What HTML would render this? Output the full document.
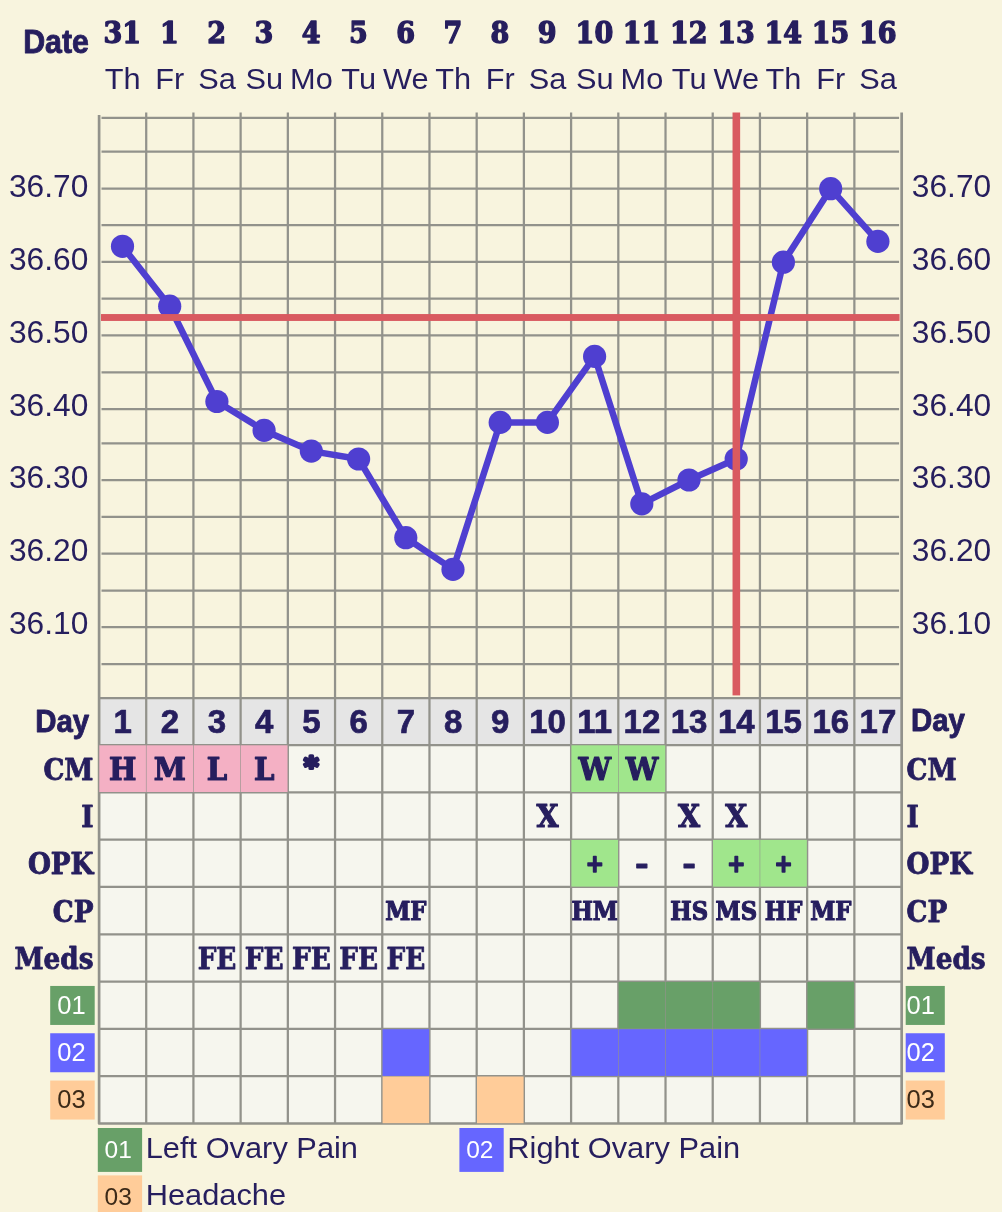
<!DOCTYPE html>
<html><head><meta charset="utf-8"><title>Chart</title>
<style>html,body{margin:0;padding:0;background:#f8f4de;}svg{display:block;filter:blur(0.45px)}</style></head>
<body>
<svg width="1002" height="1212" viewBox="0 0 1002 1212">
<rect width="1002" height="1212" fill="#f8f4de"/>
<rect x="99.0" y="698.2" width="802.57" height="425.30" fill="#f6f6ee"/>
<rect x="99.0" y="698.2" width="802.57" height="46.80" fill="#e5e5e5"/>
<g stroke="#92928b" stroke-width="2.25" fill="none">
<line x1="146.21" y1="112.5" x2="146.21" y2="1123.50"/>
<line x1="193.42" y1="112.5" x2="193.42" y2="1123.50"/>
<line x1="240.63" y1="112.5" x2="240.63" y2="1123.50"/>
<line x1="287.84" y1="112.5" x2="287.84" y2="1123.50"/>
<line x1="335.05" y1="112.5" x2="335.05" y2="1123.50"/>
<line x1="382.26" y1="112.5" x2="382.26" y2="1123.50"/>
<line x1="429.47" y1="112.5" x2="429.47" y2="1123.50"/>
<line x1="476.68" y1="112.5" x2="476.68" y2="1123.50"/>
<line x1="523.89" y1="112.5" x2="523.89" y2="1123.50"/>
<line x1="571.10" y1="112.5" x2="571.10" y2="1123.50"/>
<line x1="618.31" y1="112.5" x2="618.31" y2="1123.50"/>
<line x1="665.52" y1="112.5" x2="665.52" y2="1123.50"/>
<line x1="712.73" y1="112.5" x2="712.73" y2="1123.50"/>
<line x1="759.94" y1="112.5" x2="759.94" y2="1123.50"/>
<line x1="807.15" y1="112.5" x2="807.15" y2="1123.50"/>
<line x1="854.36" y1="112.5" x2="854.36" y2="1123.50"/>
<path d="M99.10,115 V1123.50 H901.67 V112.5" stroke-width="2.7" stroke-linejoin="round"/>
<line x1="101.50" y1="117.8" x2="899.07" y2="117.8"/>
<line x1="101.50" y1="151.60" x2="899.07" y2="151.60"/>
<line x1="101.50" y1="188.50" x2="899.07" y2="188.50"/>
<line x1="101.50" y1="225.20" x2="899.07" y2="225.20"/>
<line x1="101.50" y1="261.90" x2="899.07" y2="261.90"/>
<line x1="101.50" y1="298.60" x2="899.07" y2="298.60"/>
<line x1="101.50" y1="335.30" x2="899.07" y2="335.30"/>
<line x1="101.50" y1="372.30" x2="899.07" y2="372.30"/>
<line x1="101.50" y1="409.00" x2="899.07" y2="409.00"/>
<line x1="101.50" y1="443.40" x2="899.07" y2="443.40"/>
<line x1="101.50" y1="480.10" x2="899.07" y2="480.10"/>
<line x1="101.50" y1="516.80" x2="899.07" y2="516.80"/>
<line x1="101.50" y1="553.70" x2="899.07" y2="553.70"/>
<line x1="101.50" y1="590.50" x2="899.07" y2="590.50"/>
<line x1="101.50" y1="627.00" x2="899.07" y2="627.00"/>
<line x1="101.50" y1="664.10" x2="899.07" y2="664.10"/>
<line x1="99.00" y1="698.20" x2="901.57" y2="698.20"/>
<line x1="99.00" y1="745.00" x2="901.57" y2="745.00"/>
<line x1="99.00" y1="792.30" x2="901.57" y2="792.30"/>
<line x1="99.00" y1="839.60" x2="901.57" y2="839.60"/>
<line x1="99.00" y1="886.90" x2="901.57" y2="886.90"/>
<line x1="99.00" y1="934.30" x2="901.57" y2="934.30"/>
<line x1="99.00" y1="981.60" x2="901.57" y2="981.60"/>
<line x1="99.00" y1="1028.90" x2="901.57" y2="1028.90"/>
<line x1="99.00" y1="1076.20" x2="901.57" y2="1076.20"/>
</g>
<rect x="99.30" y="745.30" width="46.61" height="46.70" fill="#f4b0c4"/>
<rect x="146.51" y="745.30" width="46.61" height="46.70" fill="#f4b0c4"/>
<rect x="193.72" y="745.30" width="46.61" height="46.70" fill="#f4b0c4"/>
<rect x="240.93" y="745.30" width="46.61" height="46.70" fill="#f4b0c4"/>
<rect x="571.40" y="745.30" width="46.61" height="46.70" fill="#a0e68c"/>
<rect x="618.61" y="745.30" width="46.61" height="46.70" fill="#a0e68c"/>
<rect x="571.40" y="839.90" width="46.61" height="46.70" fill="#a0e68c"/>
<rect x="713.03" y="839.90" width="46.61" height="46.70" fill="#a0e68c"/>
<rect x="760.24" y="839.90" width="46.61" height="46.70" fill="#a0e68c"/>
<rect x="618.61" y="981.90" width="46.61" height="46.70" fill="#68a068"/>
<rect x="665.82" y="981.90" width="46.61" height="46.70" fill="#68a068"/>
<rect x="713.03" y="981.90" width="46.61" height="46.70" fill="#68a068"/>
<rect x="807.45" y="981.90" width="46.61" height="46.70" fill="#68a068"/>
<rect x="382.56" y="1029.20" width="46.61" height="46.70" fill="#6666ff"/>
<rect x="571.40" y="1029.20" width="46.61" height="46.70" fill="#6666ff"/>
<rect x="618.61" y="1029.20" width="46.61" height="46.70" fill="#6666ff"/>
<rect x="665.82" y="1029.20" width="46.61" height="46.70" fill="#6666ff"/>
<rect x="713.03" y="1029.20" width="46.61" height="46.70" fill="#6666ff"/>
<rect x="760.24" y="1029.20" width="46.61" height="46.70" fill="#6666ff"/>
<rect x="382.56" y="1076.50" width="46.61" height="46.70" fill="#ffcc99"/>
<rect x="476.98" y="1076.50" width="46.61" height="46.70" fill="#ffcc99"/>
<polyline fill="none" stroke="#4f3fd0" stroke-width="6.5" stroke-linejoin="round" points="122.5,246.3 169.7,306.2 216.9,401.5 264.1,430.4 311.3,451.1 358.6,459.0 405.8,537.7 453.0,569.4 500.2,422.4 547.4,422.4 594.6,356.4 641.8,503.9 689.0,480.0 736.2,459.0 783.4,262.2 830.7,188.7 877.9,241.4"/>
<circle cx="122.5" cy="246.3" r="11.6" fill="#4f3fd0"/>
<circle cx="169.7" cy="306.2" r="11.6" fill="#4f3fd0"/>
<circle cx="216.9" cy="401.5" r="11.6" fill="#4f3fd0"/>
<circle cx="264.1" cy="430.4" r="11.6" fill="#4f3fd0"/>
<circle cx="311.3" cy="451.1" r="11.6" fill="#4f3fd0"/>
<circle cx="358.6" cy="459.0" r="11.6" fill="#4f3fd0"/>
<circle cx="405.8" cy="537.7" r="11.6" fill="#4f3fd0"/>
<circle cx="453.0" cy="569.4" r="11.6" fill="#4f3fd0"/>
<circle cx="500.2" cy="422.4" r="11.6" fill="#4f3fd0"/>
<circle cx="547.4" cy="422.4" r="11.6" fill="#4f3fd0"/>
<circle cx="594.6" cy="356.4" r="11.6" fill="#4f3fd0"/>
<circle cx="641.8" cy="503.9" r="11.6" fill="#4f3fd0"/>
<circle cx="689.0" cy="480.0" r="11.6" fill="#4f3fd0"/>
<circle cx="736.2" cy="459.0" r="11.6" fill="#4f3fd0"/>
<circle cx="783.4" cy="262.2" r="11.6" fill="#4f3fd0"/>
<circle cx="830.7" cy="188.7" r="11.6" fill="#4f3fd0"/>
<circle cx="877.9" cy="241.4" r="11.6" fill="#4f3fd0"/>
<rect x="101.00" y="314.05" width="798.57" height="6.9" fill="#d95a60"/>
<rect x="732.54" y="112.5" width="7.6" height="582.90" fill="#d95a60"/>
<text transform="translate(88.90 52.90) scale(0.92 1)" x="0" y="0" font-family="'Liberation Sans', Arial, sans-serif" font-size="33" font-weight="bold" text-anchor="end" fill="#261e5e" stroke="#261e5e" stroke-width="0.9" stroke-linejoin="round">Date</text>
<text x="122.31" y="42.90" font-family="'DejaVu Serif Condensed', 'DejaVu Serif', 'Liberation Serif', serif" font-size="30" font-weight="bold" text-anchor="middle" fill="#261e5e" stroke="#261e5e" stroke-width="1.3" stroke-linejoin="round">31</text>
<text transform="translate(122.61 88.70) scale(1.06 1)" x="0" y="0" font-family="'Liberation Sans', Arial, sans-serif" font-size="29" font-weight="normal" text-anchor="middle" fill="#261e5e">Th</text>
<text x="169.51" y="42.90" font-family="'DejaVu Serif Condensed', 'DejaVu Serif', 'Liberation Serif', serif" font-size="30" font-weight="bold" text-anchor="middle" fill="#261e5e" stroke="#261e5e" stroke-width="1.3" stroke-linejoin="round">1</text>
<text transform="translate(169.81 88.70) scale(1.06 1)" x="0" y="0" font-family="'Liberation Sans', Arial, sans-serif" font-size="29" font-weight="normal" text-anchor="middle" fill="#261e5e">Fr</text>
<text x="216.72" y="42.90" font-family="'DejaVu Serif Condensed', 'DejaVu Serif', 'Liberation Serif', serif" font-size="30" font-weight="bold" text-anchor="middle" fill="#261e5e" stroke="#261e5e" stroke-width="1.3" stroke-linejoin="round">2</text>
<text transform="translate(217.03 88.70) scale(1.06 1)" x="0" y="0" font-family="'Liberation Sans', Arial, sans-serif" font-size="29" font-weight="normal" text-anchor="middle" fill="#261e5e">Sa</text>
<text x="263.94" y="42.90" font-family="'DejaVu Serif Condensed', 'DejaVu Serif', 'Liberation Serif', serif" font-size="30" font-weight="bold" text-anchor="middle" fill="#261e5e" stroke="#261e5e" stroke-width="1.3" stroke-linejoin="round">3</text>
<text transform="translate(264.24 88.70) scale(1.06 1)" x="0" y="0" font-family="'Liberation Sans', Arial, sans-serif" font-size="29" font-weight="normal" text-anchor="middle" fill="#261e5e">Su</text>
<text x="311.14" y="42.90" font-family="'DejaVu Serif Condensed', 'DejaVu Serif', 'Liberation Serif', serif" font-size="30" font-weight="bold" text-anchor="middle" fill="#261e5e" stroke="#261e5e" stroke-width="1.3" stroke-linejoin="round">4</text>
<text transform="translate(311.44 88.70) scale(1.06 1)" x="0" y="0" font-family="'Liberation Sans', Arial, sans-serif" font-size="29" font-weight="normal" text-anchor="middle" fill="#261e5e">Mo</text>
<text x="358.36" y="42.90" font-family="'DejaVu Serif Condensed', 'DejaVu Serif', 'Liberation Serif', serif" font-size="30" font-weight="bold" text-anchor="middle" fill="#261e5e" stroke="#261e5e" stroke-width="1.3" stroke-linejoin="round">5</text>
<text transform="translate(358.66 88.70) scale(1.06 1)" x="0" y="0" font-family="'Liberation Sans', Arial, sans-serif" font-size="29" font-weight="normal" text-anchor="middle" fill="#261e5e">Tu</text>
<text x="405.56" y="42.90" font-family="'DejaVu Serif Condensed', 'DejaVu Serif', 'Liberation Serif', serif" font-size="30" font-weight="bold" text-anchor="middle" fill="#261e5e" stroke="#261e5e" stroke-width="1.3" stroke-linejoin="round">6</text>
<text transform="translate(405.87 88.70) scale(1.06 1)" x="0" y="0" font-family="'Liberation Sans', Arial, sans-serif" font-size="29" font-weight="normal" text-anchor="middle" fill="#261e5e">We</text>
<text x="452.77" y="42.90" font-family="'DejaVu Serif Condensed', 'DejaVu Serif', 'Liberation Serif', serif" font-size="30" font-weight="bold" text-anchor="middle" fill="#261e5e" stroke="#261e5e" stroke-width="1.3" stroke-linejoin="round">7</text>
<text transform="translate(453.07 88.70) scale(1.06 1)" x="0" y="0" font-family="'Liberation Sans', Arial, sans-serif" font-size="29" font-weight="normal" text-anchor="middle" fill="#261e5e">Th</text>
<text x="499.99" y="42.90" font-family="'DejaVu Serif Condensed', 'DejaVu Serif', 'Liberation Serif', serif" font-size="30" font-weight="bold" text-anchor="middle" fill="#261e5e" stroke="#261e5e" stroke-width="1.3" stroke-linejoin="round">8</text>
<text transform="translate(500.29 88.70) scale(1.06 1)" x="0" y="0" font-family="'Liberation Sans', Arial, sans-serif" font-size="29" font-weight="normal" text-anchor="middle" fill="#261e5e">Fr</text>
<text x="547.20" y="42.90" font-family="'DejaVu Serif Condensed', 'DejaVu Serif', 'Liberation Serif', serif" font-size="30" font-weight="bold" text-anchor="middle" fill="#261e5e" stroke="#261e5e" stroke-width="1.3" stroke-linejoin="round">9</text>
<text transform="translate(547.50 88.70) scale(1.06 1)" x="0" y="0" font-family="'Liberation Sans', Arial, sans-serif" font-size="29" font-weight="normal" text-anchor="middle" fill="#261e5e">Sa</text>
<text x="594.40" y="42.90" font-family="'DejaVu Serif Condensed', 'DejaVu Serif', 'Liberation Serif', serif" font-size="30" font-weight="bold" text-anchor="middle" fill="#261e5e" stroke="#261e5e" stroke-width="1.3" stroke-linejoin="round">10</text>
<text transform="translate(594.70 88.70) scale(1.06 1)" x="0" y="0" font-family="'Liberation Sans', Arial, sans-serif" font-size="29" font-weight="normal" text-anchor="middle" fill="#261e5e">Su</text>
<text x="641.62" y="42.90" font-family="'DejaVu Serif Condensed', 'DejaVu Serif', 'Liberation Serif', serif" font-size="30" font-weight="bold" text-anchor="middle" fill="#261e5e" stroke="#261e5e" stroke-width="1.3" stroke-linejoin="round">11</text>
<text transform="translate(641.91 88.70) scale(1.06 1)" x="0" y="0" font-family="'Liberation Sans', Arial, sans-serif" font-size="29" font-weight="normal" text-anchor="middle" fill="#261e5e">Mo</text>
<text x="688.83" y="42.90" font-family="'DejaVu Serif Condensed', 'DejaVu Serif', 'Liberation Serif', serif" font-size="30" font-weight="bold" text-anchor="middle" fill="#261e5e" stroke="#261e5e" stroke-width="1.3" stroke-linejoin="round">12</text>
<text transform="translate(689.12 88.70) scale(1.06 1)" x="0" y="0" font-family="'Liberation Sans', Arial, sans-serif" font-size="29" font-weight="normal" text-anchor="middle" fill="#261e5e">Tu</text>
<text x="736.04" y="42.90" font-family="'DejaVu Serif Condensed', 'DejaVu Serif', 'Liberation Serif', serif" font-size="30" font-weight="bold" text-anchor="middle" fill="#261e5e" stroke="#261e5e" stroke-width="1.3" stroke-linejoin="round">13</text>
<text transform="translate(736.34 88.70) scale(1.06 1)" x="0" y="0" font-family="'Liberation Sans', Arial, sans-serif" font-size="29" font-weight="normal" text-anchor="middle" fill="#261e5e">We</text>
<text x="783.25" y="42.90" font-family="'DejaVu Serif Condensed', 'DejaVu Serif', 'Liberation Serif', serif" font-size="30" font-weight="bold" text-anchor="middle" fill="#261e5e" stroke="#261e5e" stroke-width="1.3" stroke-linejoin="round">14</text>
<text transform="translate(783.54 88.70) scale(1.06 1)" x="0" y="0" font-family="'Liberation Sans', Arial, sans-serif" font-size="29" font-weight="normal" text-anchor="middle" fill="#261e5e">Th</text>
<text x="830.46" y="42.90" font-family="'DejaVu Serif Condensed', 'DejaVu Serif', 'Liberation Serif', serif" font-size="30" font-weight="bold" text-anchor="middle" fill="#261e5e" stroke="#261e5e" stroke-width="1.3" stroke-linejoin="round">15</text>
<text transform="translate(830.75 88.70) scale(1.06 1)" x="0" y="0" font-family="'Liberation Sans', Arial, sans-serif" font-size="29" font-weight="normal" text-anchor="middle" fill="#261e5e">Fr</text>
<text x="877.67" y="42.90" font-family="'DejaVu Serif Condensed', 'DejaVu Serif', 'Liberation Serif', serif" font-size="30" font-weight="bold" text-anchor="middle" fill="#261e5e" stroke="#261e5e" stroke-width="1.3" stroke-linejoin="round">16</text>
<text transform="translate(877.97 88.70) scale(1.06 1)" x="0" y="0" font-family="'Liberation Sans', Arial, sans-serif" font-size="29" font-weight="normal" text-anchor="middle" fill="#261e5e">Sa</text>
<text transform="translate(88.30 196.60) scale(1.04 1)" x="0" y="0" font-family="'Liberation Sans', Arial, sans-serif" font-size="30.5" font-weight="normal" text-anchor="end" fill="#261e5e">36.70</text>
<text transform="translate(911.80 196.60) scale(1.04 1)" x="0" y="0" font-family="'Liberation Sans', Arial, sans-serif" font-size="30.5" font-weight="normal" text-anchor="start" fill="#261e5e">36.70</text>
<text transform="translate(88.30 270.10) scale(1.04 1)" x="0" y="0" font-family="'Liberation Sans', Arial, sans-serif" font-size="30.5" font-weight="normal" text-anchor="end" fill="#261e5e">36.60</text>
<text transform="translate(911.80 270.10) scale(1.04 1)" x="0" y="0" font-family="'Liberation Sans', Arial, sans-serif" font-size="30.5" font-weight="normal" text-anchor="start" fill="#261e5e">36.60</text>
<text transform="translate(88.30 343.30) scale(1.04 1)" x="0" y="0" font-family="'Liberation Sans', Arial, sans-serif" font-size="30.5" font-weight="normal" text-anchor="end" fill="#261e5e">36.50</text>
<text transform="translate(911.80 343.30) scale(1.04 1)" x="0" y="0" font-family="'Liberation Sans', Arial, sans-serif" font-size="30.5" font-weight="normal" text-anchor="start" fill="#261e5e">36.50</text>
<text transform="translate(88.30 416.40) scale(1.04 1)" x="0" y="0" font-family="'Liberation Sans', Arial, sans-serif" font-size="30.5" font-weight="normal" text-anchor="end" fill="#261e5e">36.40</text>
<text transform="translate(911.80 416.40) scale(1.04 1)" x="0" y="0" font-family="'Liberation Sans', Arial, sans-serif" font-size="30.5" font-weight="normal" text-anchor="start" fill="#261e5e">36.40</text>
<text transform="translate(88.30 487.70) scale(1.04 1)" x="0" y="0" font-family="'Liberation Sans', Arial, sans-serif" font-size="30.5" font-weight="normal" text-anchor="end" fill="#261e5e">36.30</text>
<text transform="translate(911.80 487.70) scale(1.04 1)" x="0" y="0" font-family="'Liberation Sans', Arial, sans-serif" font-size="30.5" font-weight="normal" text-anchor="start" fill="#261e5e">36.30</text>
<text transform="translate(88.30 561.30) scale(1.04 1)" x="0" y="0" font-family="'Liberation Sans', Arial, sans-serif" font-size="30.5" font-weight="normal" text-anchor="end" fill="#261e5e">36.20</text>
<text transform="translate(911.80 561.30) scale(1.04 1)" x="0" y="0" font-family="'Liberation Sans', Arial, sans-serif" font-size="30.5" font-weight="normal" text-anchor="start" fill="#261e5e">36.20</text>
<text transform="translate(88.30 634.40) scale(1.04 1)" x="0" y="0" font-family="'Liberation Sans', Arial, sans-serif" font-size="30.5" font-weight="normal" text-anchor="end" fill="#261e5e">36.10</text>
<text transform="translate(911.80 634.40) scale(1.04 1)" x="0" y="0" font-family="'Liberation Sans', Arial, sans-serif" font-size="30.5" font-weight="normal" text-anchor="start" fill="#261e5e">36.10</text>
<text x="122.61" y="732.80" font-family="'Liberation Sans', Arial, sans-serif" font-size="33" font-weight="bold" text-anchor="middle" fill="#261e5e" stroke="#261e5e" stroke-width="0.7" stroke-linejoin="round">1</text>
<text x="169.81" y="732.80" font-family="'Liberation Sans', Arial, sans-serif" font-size="33" font-weight="bold" text-anchor="middle" fill="#261e5e" stroke="#261e5e" stroke-width="0.7" stroke-linejoin="round">2</text>
<text x="217.03" y="732.80" font-family="'Liberation Sans', Arial, sans-serif" font-size="33" font-weight="bold" text-anchor="middle" fill="#261e5e" stroke="#261e5e" stroke-width="0.7" stroke-linejoin="round">3</text>
<text x="264.24" y="732.80" font-family="'Liberation Sans', Arial, sans-serif" font-size="33" font-weight="bold" text-anchor="middle" fill="#261e5e" stroke="#261e5e" stroke-width="0.7" stroke-linejoin="round">4</text>
<text x="311.44" y="732.80" font-family="'Liberation Sans', Arial, sans-serif" font-size="33" font-weight="bold" text-anchor="middle" fill="#261e5e" stroke="#261e5e" stroke-width="0.7" stroke-linejoin="round">5</text>
<text x="358.66" y="732.80" font-family="'Liberation Sans', Arial, sans-serif" font-size="33" font-weight="bold" text-anchor="middle" fill="#261e5e" stroke="#261e5e" stroke-width="0.7" stroke-linejoin="round">6</text>
<text x="405.87" y="732.80" font-family="'Liberation Sans', Arial, sans-serif" font-size="33" font-weight="bold" text-anchor="middle" fill="#261e5e" stroke="#261e5e" stroke-width="0.7" stroke-linejoin="round">7</text>
<text x="453.07" y="732.80" font-family="'Liberation Sans', Arial, sans-serif" font-size="33" font-weight="bold" text-anchor="middle" fill="#261e5e" stroke="#261e5e" stroke-width="0.7" stroke-linejoin="round">8</text>
<text x="500.29" y="732.80" font-family="'Liberation Sans', Arial, sans-serif" font-size="33" font-weight="bold" text-anchor="middle" fill="#261e5e" stroke="#261e5e" stroke-width="0.7" stroke-linejoin="round">9</text>
<text x="547.50" y="732.80" font-family="'Liberation Sans', Arial, sans-serif" font-size="33" font-weight="bold" text-anchor="middle" fill="#261e5e" stroke="#261e5e" stroke-width="0.7" stroke-linejoin="round">10</text>
<text x="594.70" y="732.80" font-family="'Liberation Sans', Arial, sans-serif" font-size="33" font-weight="bold" text-anchor="middle" fill="#261e5e" stroke="#261e5e" stroke-width="0.7" stroke-linejoin="round">11</text>
<text x="641.91" y="732.80" font-family="'Liberation Sans', Arial, sans-serif" font-size="33" font-weight="bold" text-anchor="middle" fill="#261e5e" stroke="#261e5e" stroke-width="0.7" stroke-linejoin="round">12</text>
<text x="689.12" y="732.80" font-family="'Liberation Sans', Arial, sans-serif" font-size="33" font-weight="bold" text-anchor="middle" fill="#261e5e" stroke="#261e5e" stroke-width="0.7" stroke-linejoin="round">13</text>
<text x="736.34" y="732.80" font-family="'Liberation Sans', Arial, sans-serif" font-size="33" font-weight="bold" text-anchor="middle" fill="#261e5e" stroke="#261e5e" stroke-width="0.7" stroke-linejoin="round">14</text>
<text x="783.54" y="732.80" font-family="'Liberation Sans', Arial, sans-serif" font-size="33" font-weight="bold" text-anchor="middle" fill="#261e5e" stroke="#261e5e" stroke-width="0.7" stroke-linejoin="round">15</text>
<text x="830.75" y="732.80" font-family="'Liberation Sans', Arial, sans-serif" font-size="33" font-weight="bold" text-anchor="middle" fill="#261e5e" stroke="#261e5e" stroke-width="0.7" stroke-linejoin="round">16</text>
<text x="877.97" y="732.80" font-family="'Liberation Sans', Arial, sans-serif" font-size="33" font-weight="bold" text-anchor="middle" fill="#261e5e" stroke="#261e5e" stroke-width="0.7" stroke-linejoin="round">17</text>
<text transform="translate(89.20 732.00) scale(0.92 1)" x="0" y="0" font-family="'Liberation Sans', Arial, sans-serif" font-size="32" font-weight="bold" text-anchor="end" fill="#261e5e" stroke="#261e5e" stroke-width="0.9" stroke-linejoin="round">Day</text>
<text transform="translate(911.00 731.00) scale(0.92 1)" x="0" y="0" font-family="'Liberation Sans', Arial, sans-serif" font-size="32" font-weight="bold" text-anchor="start" fill="#261e5e" stroke="#261e5e" stroke-width="0.9" stroke-linejoin="round">Day</text>
<text transform="translate(93.50 779.80) scale(0.96 1)" x="0" y="0" font-family="'DejaVu Serif Condensed', 'DejaVu Serif', 'Liberation Serif', serif" font-size="30.5" font-weight="bold" text-anchor="end" fill="#261e5e" stroke="#261e5e" stroke-width="0.8" stroke-linejoin="round">CM</text>
<text transform="translate(906.50 779.80) scale(0.96 1)" x="0" y="0" font-family="'DejaVu Serif Condensed', 'DejaVu Serif', 'Liberation Serif', serif" font-size="30.5" font-weight="bold" text-anchor="start" fill="#261e5e" stroke="#261e5e" stroke-width="0.8" stroke-linejoin="round">CM</text>
<text transform="translate(93.50 827.10) scale(0.96 1)" x="0" y="0" font-family="'DejaVu Serif Condensed', 'DejaVu Serif', 'Liberation Serif', serif" font-size="30.5" font-weight="bold" text-anchor="end" fill="#261e5e" stroke="#261e5e" stroke-width="0.8" stroke-linejoin="round">I</text>
<text transform="translate(906.50 827.10) scale(0.96 1)" x="0" y="0" font-family="'DejaVu Serif Condensed', 'DejaVu Serif', 'Liberation Serif', serif" font-size="30.5" font-weight="bold" text-anchor="start" fill="#261e5e" stroke="#261e5e" stroke-width="0.8" stroke-linejoin="round">I</text>
<text transform="translate(93.50 874.40) scale(0.96 1)" x="0" y="0" font-family="'DejaVu Serif Condensed', 'DejaVu Serif', 'Liberation Serif', serif" font-size="30.5" font-weight="bold" text-anchor="end" fill="#261e5e" stroke="#261e5e" stroke-width="0.8" stroke-linejoin="round">OPK</text>
<text transform="translate(906.50 874.40) scale(0.96 1)" x="0" y="0" font-family="'DejaVu Serif Condensed', 'DejaVu Serif', 'Liberation Serif', serif" font-size="30.5" font-weight="bold" text-anchor="start" fill="#261e5e" stroke="#261e5e" stroke-width="0.8" stroke-linejoin="round">OPK</text>
<text transform="translate(93.50 921.75) scale(0.96 1)" x="0" y="0" font-family="'DejaVu Serif Condensed', 'DejaVu Serif', 'Liberation Serif', serif" font-size="30.5" font-weight="bold" text-anchor="end" fill="#261e5e" stroke="#261e5e" stroke-width="0.8" stroke-linejoin="round">CP</text>
<text transform="translate(906.50 921.75) scale(0.96 1)" x="0" y="0" font-family="'DejaVu Serif Condensed', 'DejaVu Serif', 'Liberation Serif', serif" font-size="30.5" font-weight="bold" text-anchor="start" fill="#261e5e" stroke="#261e5e" stroke-width="0.8" stroke-linejoin="round">CP</text>
<text transform="translate(93.50 969.10) scale(0.96 1)" x="0" y="0" font-family="'DejaVu Serif Condensed', 'DejaVu Serif', 'Liberation Serif', serif" font-size="30.5" font-weight="bold" text-anchor="end" fill="#261e5e" stroke="#261e5e" stroke-width="0.8" stroke-linejoin="round">Meds</text>
<text transform="translate(906.50 969.10) scale(0.96 1)" x="0" y="0" font-family="'DejaVu Serif Condensed', 'DejaVu Serif', 'Liberation Serif', serif" font-size="30.5" font-weight="bold" text-anchor="start" fill="#261e5e" stroke="#261e5e" stroke-width="0.8" stroke-linejoin="round">Meds</text>
<text transform="translate(122.61 780.10) scale(1.04 1)" x="0" y="0" font-family="'DejaVu Serif Condensed', 'DejaVu Serif', 'Liberation Serif', serif" font-size="31" font-weight="bold" text-anchor="middle" fill="#261e5e" stroke="#261e5e" stroke-width="1.1" stroke-linejoin="round">H</text>
<text transform="translate(169.81 780.10) scale(1.04 1)" x="0" y="0" font-family="'DejaVu Serif Condensed', 'DejaVu Serif', 'Liberation Serif', serif" font-size="31" font-weight="bold" text-anchor="middle" fill="#261e5e" stroke="#261e5e" stroke-width="1.1" stroke-linejoin="round">M</text>
<text transform="translate(217.03 780.10) scale(1.04 1)" x="0" y="0" font-family="'DejaVu Serif Condensed', 'DejaVu Serif', 'Liberation Serif', serif" font-size="31" font-weight="bold" text-anchor="middle" fill="#261e5e" stroke="#261e5e" stroke-width="1.1" stroke-linejoin="round">L</text>
<text transform="translate(264.24 780.10) scale(1.04 1)" x="0" y="0" font-family="'DejaVu Serif Condensed', 'DejaVu Serif', 'Liberation Serif', serif" font-size="31" font-weight="bold" text-anchor="middle" fill="#261e5e" stroke="#261e5e" stroke-width="1.1" stroke-linejoin="round">L</text>
<text transform="translate(594.70 780.10) scale(1.04 1)" x="0" y="0" font-family="'DejaVu Serif Condensed', 'DejaVu Serif', 'Liberation Serif', serif" font-size="31" font-weight="bold" text-anchor="middle" fill="#261e5e" stroke="#261e5e" stroke-width="1.1" stroke-linejoin="round">W</text>
<text transform="translate(641.91 780.10) scale(1.04 1)" x="0" y="0" font-family="'DejaVu Serif Condensed', 'DejaVu Serif', 'Liberation Serif', serif" font-size="31" font-weight="bold" text-anchor="middle" fill="#261e5e" stroke="#261e5e" stroke-width="1.1" stroke-linejoin="round">W</text>
<text transform="translate(311.14 776.30) scale(1.05 1)" x="0" y="0" font-family="'DejaVu Sans', 'Liberation Sans', sans-serif" font-size="26.5" font-weight="bold" text-anchor="middle" fill="#261e5e" stroke="#261e5e" stroke-width="3.3" stroke-linejoin="round">*</text>
<text transform="translate(547.50 827.10) scale(1.02 1)" x="0" y="0" font-family="'DejaVu Serif Condensed', 'DejaVu Serif', 'Liberation Serif', serif" font-size="31" font-weight="bold" text-anchor="middle" fill="#261e5e" stroke="#261e5e" stroke-width="1.0" stroke-linejoin="round">X</text>
<text transform="translate(689.12 827.10) scale(1.02 1)" x="0" y="0" font-family="'DejaVu Serif Condensed', 'DejaVu Serif', 'Liberation Serif', serif" font-size="31" font-weight="bold" text-anchor="middle" fill="#261e5e" stroke="#261e5e" stroke-width="1.0" stroke-linejoin="round">X</text>
<text transform="translate(736.34 827.10) scale(1.02 1)" x="0" y="0" font-family="'DejaVu Serif Condensed', 'DejaVu Serif', 'Liberation Serif', serif" font-size="31" font-weight="bold" text-anchor="middle" fill="#261e5e" stroke="#261e5e" stroke-width="1.0" stroke-linejoin="round">X</text>
<text x="594.70" y="871.80" font-family="'DejaVu Serif Condensed', 'DejaVu Serif', 'Liberation Serif', serif" font-size="24" font-weight="bold" text-anchor="middle" fill="#261e5e" stroke="#261e5e" stroke-width="1.6" stroke-linejoin="round">+</text>
<text x="736.34" y="871.80" font-family="'DejaVu Serif Condensed', 'DejaVu Serif', 'Liberation Serif', serif" font-size="24" font-weight="bold" text-anchor="middle" fill="#261e5e" stroke="#261e5e" stroke-width="1.6" stroke-linejoin="round">+</text>
<text x="783.54" y="871.80" font-family="'DejaVu Serif Condensed', 'DejaVu Serif', 'Liberation Serif', serif" font-size="24" font-weight="bold" text-anchor="middle" fill="#261e5e" stroke="#261e5e" stroke-width="1.6" stroke-linejoin="round">+</text>
<text transform="translate(641.91 874.40) scale(1.2 1)" x="0" y="0" font-family="'DejaVu Serif Condensed', 'DejaVu Serif', 'Liberation Serif', serif" font-size="30.5" font-weight="bold" text-anchor="middle" fill="#261e5e" stroke="#261e5e" stroke-width="1.0" stroke-linejoin="round">-</text>
<text transform="translate(689.12 874.40) scale(1.2 1)" x="0" y="0" font-family="'DejaVu Serif Condensed', 'DejaVu Serif', 'Liberation Serif', serif" font-size="30.5" font-weight="bold" text-anchor="middle" fill="#261e5e" stroke="#261e5e" stroke-width="1.0" stroke-linejoin="round">-</text>
<text transform="translate(405.87 920.10) scale(0.97 1)" x="0" y="0" font-family="'DejaVu Serif Condensed', 'DejaVu Serif', 'Liberation Serif', serif" font-size="26" font-weight="bold" text-anchor="middle" fill="#261e5e" stroke="#261e5e" stroke-width="1.1" stroke-linejoin="round">MF</text>
<text transform="translate(594.70 920.10) scale(0.97 1)" x="0" y="0" font-family="'DejaVu Serif Condensed', 'DejaVu Serif', 'Liberation Serif', serif" font-size="26" font-weight="bold" text-anchor="middle" fill="#261e5e" stroke="#261e5e" stroke-width="1.1" stroke-linejoin="round">HM</text>
<text transform="translate(689.12 920.10) scale(0.97 1)" x="0" y="0" font-family="'DejaVu Serif Condensed', 'DejaVu Serif', 'Liberation Serif', serif" font-size="26" font-weight="bold" text-anchor="middle" fill="#261e5e" stroke="#261e5e" stroke-width="1.1" stroke-linejoin="round">HS</text>
<text transform="translate(736.34 920.10) scale(0.97 1)" x="0" y="0" font-family="'DejaVu Serif Condensed', 'DejaVu Serif', 'Liberation Serif', serif" font-size="26" font-weight="bold" text-anchor="middle" fill="#261e5e" stroke="#261e5e" stroke-width="1.1" stroke-linejoin="round">MS</text>
<text transform="translate(783.54 920.10) scale(0.97 1)" x="0" y="0" font-family="'DejaVu Serif Condensed', 'DejaVu Serif', 'Liberation Serif', serif" font-size="26" font-weight="bold" text-anchor="middle" fill="#261e5e" stroke="#261e5e" stroke-width="1.1" stroke-linejoin="round">HF</text>
<text transform="translate(830.75 920.10) scale(0.97 1)" x="0" y="0" font-family="'DejaVu Serif Condensed', 'DejaVu Serif', 'Liberation Serif', serif" font-size="26" font-weight="bold" text-anchor="middle" fill="#261e5e" stroke="#261e5e" stroke-width="1.1" stroke-linejoin="round">MF</text>
<text transform="translate(217.03 969.10) scale(0.96 1)" x="0" y="0" font-family="'DejaVu Serif Condensed', 'DejaVu Serif', 'Liberation Serif', serif" font-size="30.5" font-weight="bold" text-anchor="middle" fill="#261e5e" stroke="#261e5e" stroke-width="0.8" stroke-linejoin="round">FE</text>
<text transform="translate(264.24 969.10) scale(0.96 1)" x="0" y="0" font-family="'DejaVu Serif Condensed', 'DejaVu Serif', 'Liberation Serif', serif" font-size="30.5" font-weight="bold" text-anchor="middle" fill="#261e5e" stroke="#261e5e" stroke-width="0.8" stroke-linejoin="round">FE</text>
<text transform="translate(311.44 969.10) scale(0.96 1)" x="0" y="0" font-family="'DejaVu Serif Condensed', 'DejaVu Serif', 'Liberation Serif', serif" font-size="30.5" font-weight="bold" text-anchor="middle" fill="#261e5e" stroke="#261e5e" stroke-width="0.8" stroke-linejoin="round">FE</text>
<text transform="translate(358.66 969.10) scale(0.96 1)" x="0" y="0" font-family="'DejaVu Serif Condensed', 'DejaVu Serif', 'Liberation Serif', serif" font-size="30.5" font-weight="bold" text-anchor="middle" fill="#261e5e" stroke="#261e5e" stroke-width="0.8" stroke-linejoin="round">FE</text>
<text transform="translate(405.87 969.10) scale(0.96 1)" x="0" y="0" font-family="'DejaVu Serif Condensed', 'DejaVu Serif', 'Liberation Serif', serif" font-size="30.5" font-weight="bold" text-anchor="middle" fill="#261e5e" stroke="#261e5e" stroke-width="0.8" stroke-linejoin="round">FE</text>
<rect x="50.2" y="985.95" width="44.5" height="39" fill="#68a068"/>
<rect x="905.7" y="985.95" width="39.1" height="39" fill="#68a068"/>
<text x="71.50" y="1013.65" font-family="'Liberation Sans', Arial, sans-serif" font-size="25.5" font-weight="normal" text-anchor="middle" fill="#ffffff">01</text>
<text x="920.80" y="1013.65" font-family="'Liberation Sans', Arial, sans-serif" font-size="25.5" font-weight="normal" text-anchor="middle" fill="#ffffff">01</text>
<rect x="50.2" y="1033.25" width="44.5" height="39" fill="#6666ff"/>
<rect x="905.7" y="1033.25" width="39.1" height="39" fill="#6666ff"/>
<text x="71.50" y="1060.95" font-family="'Liberation Sans', Arial, sans-serif" font-size="25.5" font-weight="normal" text-anchor="middle" fill="#ffffff">02</text>
<text x="920.80" y="1060.95" font-family="'Liberation Sans', Arial, sans-serif" font-size="25.5" font-weight="normal" text-anchor="middle" fill="#ffffff">02</text>
<rect x="50.2" y="1080.55" width="44.5" height="39" fill="#ffcc99"/>
<rect x="905.7" y="1080.55" width="39.1" height="39" fill="#ffcc99"/>
<text x="71.50" y="1108.25" font-family="'Liberation Sans', Arial, sans-serif" font-size="25.5" font-weight="normal" text-anchor="middle" fill="#3c2a18">03</text>
<text x="920.80" y="1108.25" font-family="'Liberation Sans', Arial, sans-serif" font-size="25.5" font-weight="normal" text-anchor="middle" fill="#3c2a18">03</text>
<rect x="97.8" y="1128" width="44.3" height="43.9" fill="#68a068"/>
<text x="118.20" y="1158.00" font-family="'Liberation Sans', Arial, sans-serif" font-size="24.5" font-weight="normal" text-anchor="middle" fill="#ffffff">01</text>
<text transform="translate(145.70 1158.00) scale(1.02 1)" x="0" y="0" font-family="'Liberation Sans', Arial, sans-serif" font-size="30.2" font-weight="normal" text-anchor="start" fill="#261e5e">Left Ovary Pain</text>
<rect x="459.4" y="1128" width="44.3" height="43.9" fill="#6666ff"/>
<text x="479.80" y="1158.00" font-family="'Liberation Sans', Arial, sans-serif" font-size="24.5" font-weight="normal" text-anchor="middle" fill="#ffffff">02</text>
<text transform="translate(507.30 1158.00) scale(1.02 1)" x="0" y="0" font-family="'Liberation Sans', Arial, sans-serif" font-size="30.2" font-weight="normal" text-anchor="start" fill="#261e5e">Right Ovary Pain</text>
<rect x="97.8" y="1175.4" width="44.3" height="43.9" fill="#ffcc99"/>
<text x="118.20" y="1205.40" font-family="'Liberation Sans', Arial, sans-serif" font-size="24.5" font-weight="normal" text-anchor="middle" fill="#3c2a18">03</text>
<text transform="translate(145.70 1205.40) scale(1.02 1)" x="0" y="0" font-family="'Liberation Sans', Arial, sans-serif" font-size="30.2" font-weight="normal" text-anchor="start" fill="#261e5e">Headache</text>
</svg>
</body></html>
